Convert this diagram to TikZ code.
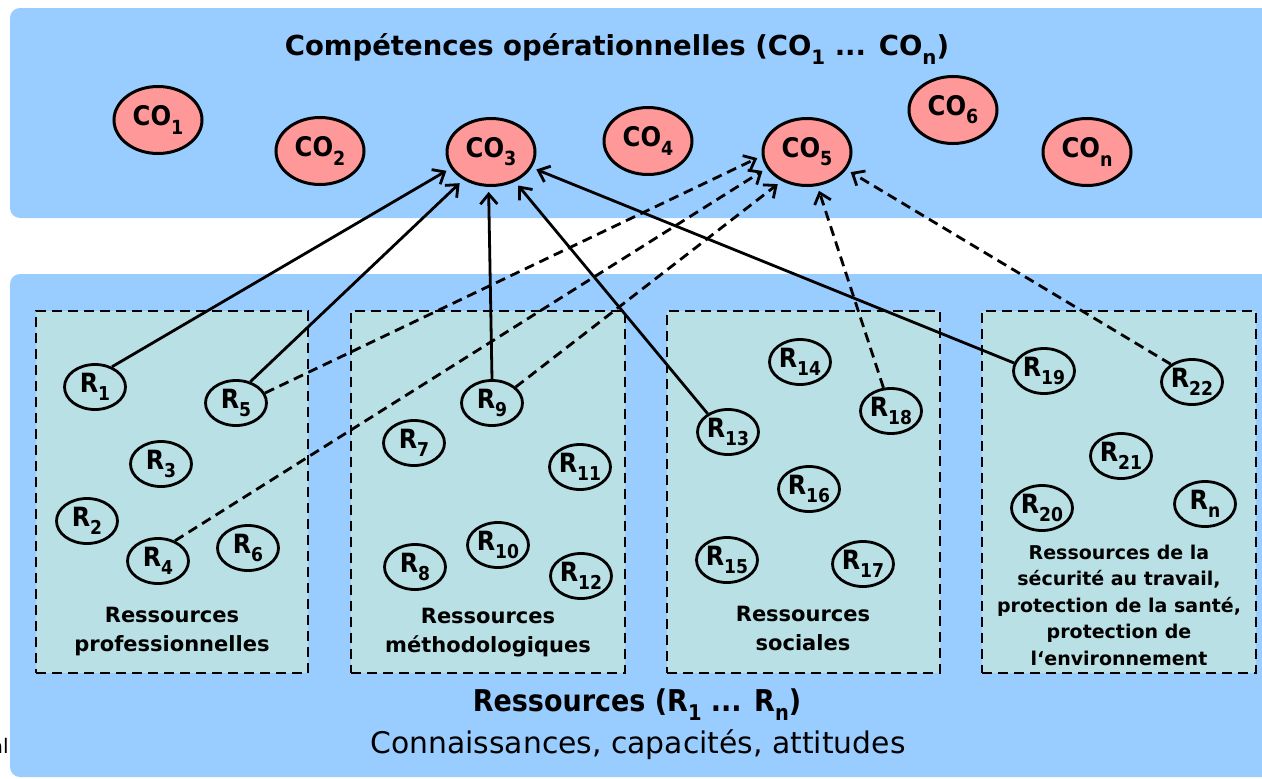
\documentclass[tikz,border=0pt]{standalone}
\usepackage{fontspec}
\setmainfont{DejaVu Sans}
\newfontfamily\cond{DejaVu Sans Condensed}
\usetikzlibrary{shapes.geometric,arrows.meta}
\definecolor{outerblue}{RGB}{153,204,255}
\definecolor{innerteal}{RGB}{185,224,228}
\definecolor{cofill}{RGB}{255,153,153}
\newcommand\dn[1]{\raisebox{-0.3em}{\scalebox{0.72}{#1}}}
\begin{document}
\begin{tikzpicture}[x=1pt,y=-1pt,
  co/.style={ellipse,draw,line width=3pt,fill=cofill,minimum width=88pt,minimum height=67pt,inner sep=0pt,font=\cond\bfseries\fontsize{27}{28}\selectfont},
  res/.style={ellipse,draw,line width=2.8pt,fill=innerteal,minimum width=61pt,minimum height=45pt,inner sep=0pt,font=\cond\bfseries\fontsize{26.5}{28}\selectfont},
  grp/.style={draw,line width=2.8pt,fill=innerteal,dash pattern=on 10pt off 6pt,inner sep=0pt},
  glabel/.style={align=center,font=\bfseries\fontsize{21}{29}\selectfont},
  arr/.style={line width=2.8pt,-{Straight Barb[length=10pt,width=17pt]},shorten >=5pt},
  darr/.style={arr,dash pattern=on 10pt off 6pt}
]
\useasboundingbox (0,0) rectangle (1262,779);
\fill[outerblue,rounded corners=10pt] (10,8) rectangle (1280,218);
\fill[outerblue,rounded corners=10pt] (10,274) rectangle (1280,777);

\node[font=\fontsize{20}{22}\selectfont,anchor=east,inner sep=0pt] (al) at (9,746) {al};

\node[font=\bfseries\fontsize{27.5}{30}\selectfont] (title) at (617,49) {Compétences opérationnelles (CO\dn{1} ... CO\dn{n})};

\node[co] (co1) at (158,120) {CO\dn{1}};
\node[co] (co2) at (320,151) {CO\dn{2}};
\node[co] (co3) at (491,152) {CO\dn{3}};
\node[co] (co4) at (648,141) {CO\dn{4}};
\node[co] (co5) at (807,152) {CO\dn{5}};
\node[co] (co6) at (953,110) {CO\dn{6}};
\node[co] (con) at (1087,152) {CO\dn{n}};

\node[grp,minimum width=272pt,minimum height=362pt] (g1) at (172,492) {};
\node[grp,minimum width=274pt,minimum height=362pt] (g2) at (488,492) {};
\node[grp,minimum width=273pt,minimum height=362pt] (g3) at (803.5,492) {};
\node[grp,minimum width=274pt,minimum height=362pt] (g4) at (1119,492) {};

\node[glabel] (l1) at (172,632) {Ressources\\professionnelles};
\node[glabel] (l2) at (488,633) {Ressources\\méthodologiques};
\node[glabel] (l3) at (803,628) {Ressources\\sociales};
\node[glabel,font=\bfseries\fontsize{19}{26.5}\selectfont] (l4) at (1119,605) {Ressources de la\\sécurité au travail,\\protection de la santé,\\protection de\\l‘environnement};

\node[res] (r1) at (95,387) {R\dn{1}};
\node[res] (r2) at (87,521) {R\dn{2}};
\node[res] (r3) at (161,464) {R\dn{3}};
\node[res] (r4) at (158,561) {R\dn{4}};
\node[res] (r5) at (236,403) {R\dn{5}};
\node[res] (r6) at (248,548) {R\dn{6}};
\node[res] (r7) at (414,443) {R\dn{7}};
\node[res] (r8) at (415,567) {R\dn{8}};
\node[res] (r9) at (492,403) {R\dn{9}};
\node[res] (r10) at (498,545) {R\dn{10}};
\node[res] (r11) at (580,467) {R\dn{11}};
\node[res] (r12) at (581,576) {R\dn{12}};
\node[res] (r13) at (728,432) {R\dn{13}};
\node[res] (r14) at (800,362) {R\dn{14}};
\node[res] (r15) at (727,560) {R\dn{15}};
\node[res] (r16) at (809,489) {R\dn{16}};
\node[res] (r17) at (863,564) {R\dn{17}};
\node[res] (r18) at (891,411) {R\dn{18}};
\node[res] (r19) at (1044,371) {R\dn{19}};
\node[res] (r20) at (1042,508) {R\dn{20}};
\node[res] (r21) at (1121,456) {R\dn{21}};
\node[res] (r22) at (1192,382) {R\dn{22}};
\node[res] (rn) at (1205,504) {R\dn{n}};

\node[font=\cond\bfseries\fontsize{30}{32}\selectfont] (bt) at (637,705) {Ressources (R\dn{1} ... R\dn{n})};
\node[font=\fontsize{29.8}{32}\selectfont] (bs) at (638,745) {Connaissances, capacités, attitudes};

\draw[arr] (r1.50) -- (co3.202);
\draw[arr] (r5.56) -- (co3.225);
\draw[arr] (r9.90) -- (co3.266);
\draw[arr] (r13.138) -- (co3.309);
\draw[arr] (r19.165) -- (co3.339);
\draw[darr] (r5.19) -- (co5.185);
\draw[darr] (r4.50) -- (co5.202);
\draw[darr] (r9.34) -- (co5.229);
\draw[darr] (r18.108) -- (co5.287);
\draw[darr] (r22.140) -- (co5.336);
\end{tikzpicture}
\end{document}
